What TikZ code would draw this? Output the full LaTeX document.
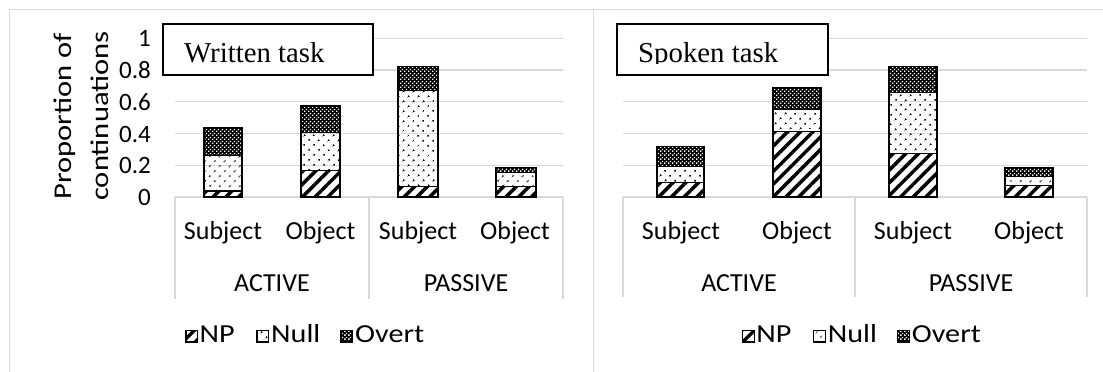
\documentclass[tikz,border=0pt]{standalone}
\usepackage{fontspec}
\newfontfamily\calib{Carlito}
\newfontfamily\calibwide[FakeStretch=1.16]{Carlito}
\newfontfamily\calibtitle[FakeStretch=1.2]{Carlito}
\newfontfamily\tnr{Liberation Serif}
\usetikzlibrary{patterns,patterns.meta}
\definecolor{gridgray}{HTML}{D9D9D9}
\tikzdeclarepattern{name=overtpat, type=uncolored,
  bounding box={(0pt,0pt) and (4pt,4pt)}, tile size={(4pt,4pt)},
  code={\fill (0.2pt,0.2pt) rectangle (1.8pt,1.8pt); \fill (2.2pt,2.2pt) rectangle (3.8pt,3.8pt);}}
\tikzset{
  gridln/.style={draw=gridgray, line width=1.4pt},
  panelln/.style={draw=gridgray, line width=1pt},
  barln/.style={draw=black, line width=1.4pt},
  npfill/.style={pattern={Lines[angle=45,distance=9pt,line width=3.5pt]}},
  nullfill/.style={pattern={Dots[angle=45,distance=7.4pt,radius=1.25pt]}},
  ticklbl/.style={font=\calib\fontsize{25}{30}\selectfont, anchor=base east, inner sep=0pt},
  catlbl/.style={font=\calib\fontsize{26}{31}\selectfont, anchor=base, inner sep=0pt},
  leglbl/.style={font=\calibwide\fontsize{26}{31}\selectfont, anchor=base west, inner sep=0pt},
  titlebox/.style={draw=black, fill=white, line width=1.4pt},
  titletxt/.style={font=\tnr\fontsize{28.8}{34}\selectfont, anchor=base west, inner sep=0pt},
  legsq/.style={draw=black, line width=1.3pt}
}
\newcommand\stackbar[5]{%
  \fill[npfill] (#1,197) rectangle (#2,#3);
  \fill[nullfill] (#1,#3) rectangle (#2,#4);
  \fill[black] (#1,#4) rectangle (#2,#5);
  \fill[pattern=overtpat, pattern color=white] (#1,#4) rectangle (#2,#5);
  \draw[barln] (#1,197) rectangle (#2,#3);
  \draw[barln] (#1,#3) rectangle (#2,#4);
  \draw[barln] (#1,#4) rectangle (#2,#5);
}
\begin{document}
\begin{tikzpicture}[x=1pt,y=-1pt]
\useasboundingbox (0,0) rectangle (1103,372);
\begin{scope}
\clip (0,0) rectangle (1103,372);
\fill[white] (0,0) rectangle (1103,372);
% panel frames
\draw[panelln] (9,400) -- (9,9) -- (1200,9);
\draw[panelln] (593,9) -- (593,400);
% gridlines
\foreach \yy in {38.25,70,101.75,133.5,165.25}{
  \draw[gridln] (175,\yy) -- (563,\yy);
  \draw[gridln] (623,\yy) -- (1087,\yy);
}
% category axes
\draw[gridln] (175,197) -- (563,197);
\draw[gridln] (175,197) -- (175,299);
\draw[gridln] (369,197) -- (369,299);
\draw[gridln] (563,197) -- (563,299);
\draw[gridln] (623,197) -- (1087,197);
\draw[gridln] (623,197) -- (623,297);
\draw[gridln] (855,197) -- (855,297);
\draw[gridln] (1087,197) -- (1087,297);
% title boxes
\draw[titlebox] (163,24) rectangle (373,75);
\node[titletxt] (wtitle) at (184,62.7) {Written task};
\draw[titlebox] (617,24) rectangle (828,75);
\begin{scope}
\clip (617,24) rectangle (828,63.6);
\node[titletxt] (stitle) at (638,62.7) {Spoken task};
\end{scope}
% bars left
\stackbar{204}{242}{191}{155.7}{127.7}
\stackbar{301}{340}{170.7}{132.3}{106}
\stackbar{398}{438}{186.7}{90.7}{66.7}
\stackbar{496}{536}{186.7}{172.3}{167.7}
% bars right
\stackbar{657}{704}{182.7}{166.7}{146.7}
\stackbar{773}{821}{131.7}{109.7}{87.3}
\stackbar{889}{937}{153.3}{92.3}{66.7}
\stackbar{1005}{1053}{185.7}{176.7}{167.7}
% y tick labels
\node[ticklbl] (t0) at (151,205.5) {0};
\node[ticklbl] (t2) at (151,173.75) {0.2};
\node[ticklbl] (t4) at (151,142) {0.4};
\node[ticklbl] (t6) at (151,110.25) {0.6};
\node[ticklbl] (t8) at (151,78.5) {0.8};
\node[ticklbl] (t10) at (151,46.75) {1};
% y axis title
\node[font=\calibtitle\fontsize{25.5}{37}\selectfont, rotate=90, align=center, inner sep=0pt] (ytitle) at (81,116) {Proportion of\\continuations};
% category labels left
\node[catlbl] (ls1) at (223,239.3) {Subject};
\node[catlbl] (lo1) at (320.5,239.3) {Object};
\node[catlbl] (ls2) at (418,239.3) {Subject};
\node[catlbl] (lo2) at (515,239.3) {Object};
\node[catlbl] (lact) at (272,291.7) {ACTIVE};
\node[catlbl] (lpas) at (466,291.7) {PASSIVE};
% category labels right
\node[catlbl] (rs1) at (681,239.3) {Subject};
\node[catlbl] (ro1) at (797,239.3) {Object};
\node[catlbl] (rs2) at (913,239.3) {Subject};
\node[catlbl] (ro2) at (1029,239.3) {Object};
\node[catlbl] (ract) at (739,291.7) {ACTIVE};
\node[catlbl] (rpas) at (971,291.7) {PASSIVE};
% legends
\foreach \lx/\nm in {186/l,742.7/r}{
  \fill[npfill] (\lx,330.5) rectangle (\lx+11.5,342);
  \draw[legsq] (\lx,330.5) rectangle (\lx+11.5,342);
  \node[leglbl] (np\nm) at (\lx+13.5,342.7) {NP};
  \fill[nullfill] (\lx+71,330.5) rectangle (\lx+82.5,342);
  \draw[legsq] (\lx+71,330.5) rectangle (\lx+82.5,342);
  \node[leglbl] (null\nm) at (\lx+85,342.7) {Null};
  \fill[black] (\lx+155,330.5) rectangle (\lx+166.5,342);
  \fill[pattern=overtpat, pattern color=white] (\lx+155,330.5) rectangle (\lx+166.5,342);
  \draw[legsq] (\lx+155,330.5) rectangle (\lx+166.5,342);
  \node[leglbl] (overt\nm) at (\lx+169,342.7) {Overt};
}
\end{scope}
\end{tikzpicture}
\end{document}
